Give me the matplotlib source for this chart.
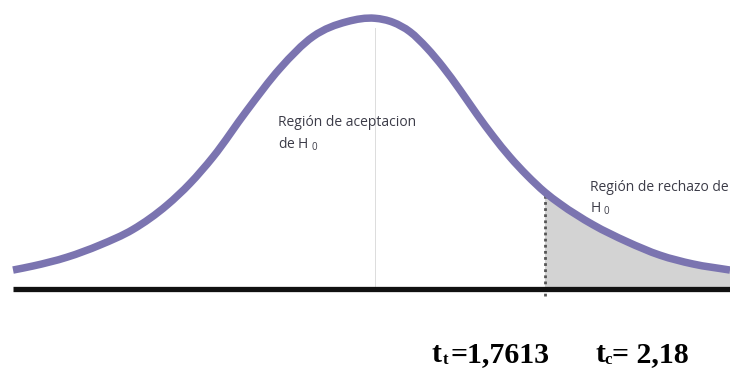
import matplotlib
matplotlib.use("Agg")
import matplotlib.pyplot as plt
from matplotlib.path import Path
from matplotlib.patches import PathPatch
import numpy as np

# Curve (t value, height above the base line)
t_vals = [-3.751, -3.544, -3.192, -2.850, -2.508, -2.155, -1.917, -1.679, -1.326,
          -0.984, -0.642, -0.290, 0.0, 0.187, 0.363, 0.539, 0.705, 0.881, 1.057,
          1.223, 1.399, 1.575, 1.7613, 1.917, 2.259, 2.611, 2.953, 3.295, 3.679]
dens = [0.028, 0.034, 0.047, 0.065, 0.088, 0.124, 0.156, 0.195, 0.264,
        0.326, 0.373, 0.395, 0.400, 0.394, 0.380, 0.356, 0.328, 0.294, 0.258,
        0.226, 0.195, 0.168, 0.143, 0.126, 0.095, 0.070, 0.050, 0.037, 0.028]
t_tabla = 1.7613
t_calc_label = "2,18"
t_tabla_label = "1,7613"

W, H = 730, 377
fig = plt.figure(figsize=(W / 100, H / 100), dpi=100)
ax = fig.add_axes([0, 0, 1, 1])
ax.set_xlim(-3.886, 3.679)
ax.set_ylim(-0.130, 0.427)
ax.axis("off")


def smooth_path(xs, ys):
    """Cubic Bezier path through the points (Hermite tangents, non-uniform x)."""
    xs = np.asarray(xs, float)
    ys = np.asarray(ys, float)
    n = len(xs)
    m = np.empty(n)
    m[0] = (ys[1] - ys[0]) / (xs[1] - xs[0])
    m[-1] = (ys[-1] - ys[-2]) / (xs[-1] - xs[-2])
    for i in range(1, n - 1):
        h0 = xs[i] - xs[i - 1]
        h1 = xs[i + 1] - xs[i]
        s0 = (ys[i] - ys[i - 1]) / h0
        s1 = (ys[i + 1] - ys[i]) / h1
        m[i] = (s0 * h1 + s1 * h0) / (h0 + h1)
    verts = [(xs[0], ys[0])]
    codes = [Path.MOVETO]
    for i in range(n - 1):
        h = xs[i + 1] - xs[i]
        verts += [(xs[i] + h / 3, ys[i] + m[i] * h / 3),
                  (xs[i + 1] - h / 3, ys[i + 1] - m[i + 1] * h / 3),
                  (xs[i + 1], ys[i + 1])]
        codes += [Path.CURVE4] * 3
    return verts, codes


# faint centre line
ax.plot([0, 0], [0, 0.385], color="#dcdcdc", lw=0.7, zorder=1)

# rejection region
k = t_vals.index(t_tabla)
v, c = smooth_path(t_vals[k:], dens[k:])
v = [(t_tabla, 0.0)] + v + [(t_vals[-1], 0.0), (t_tabla, 0.0)]
c = [Path.MOVETO, Path.LINETO] + c[1:] + [Path.LINETO, Path.CLOSEPOLY]
ax.add_patch(PathPatch(Path(np.array(v), c), facecolor="#d3d3d3", lw=0, zorder=2))

# dotted critical line
ax.plot([t_tabla, t_tabla], [-0.01, dens[k]],
        color="#555555", lw=2.0, ls=(0, (1, 1.2)), zorder=3)

# base line
ax.plot([t_vals[0], 3.9], [0, 0], color="#111111", lw=3.8, solid_capstyle="butt", zorder=4)

# curve
v, c = smooth_path(t_vals, dens)
ax.add_patch(PathPatch(Path(np.array(v), c), facecolor="none", edgecolor="#7b74b0",
                       lw=5.4, capstyle="butt", zorder=5))

small = dict(fontsize=10, color="#3c3c48", family=["Open Sans", "DejaVu Sans"])
fig.text(278 / W, 1 - 123 / H, "Región de aceptacion", va="center", ha="left", **small)
fig.text(278 / W, 1 - 144 / H, "de H $_{\\mathregular{0}}$", va="center", ha="left", **small)
fig.text(590 / W, 1 - 188 / H, "Región de rechazo de", va="center", ha="left", **small)
fig.text(590 / W, 1 - 209 / H, "H $_{\\mathregular{0}}$", va="center", ha="left", **small)

big = dict(fontsize=21.5, color="black", family="Liberation Serif", weight="bold",
           va="baseline", ha="left")
sub = dict(fontsize=12, color="black", family="Liberation Serif", weight="bold",
           va="baseline", ha="left")
base_y = 1 - 362 / H
sub_y = 1 - 364 / H
fig.text(432 / W, base_y, "t", **big)
fig.text(443 / W, sub_y, "t", **sub)
fig.text(450 / W, base_y, "=" + t_tabla_label, **big)
fig.text(595 / W, base_y, "t", **big)
fig.text(604 / W, sub_y, "c", **sub)
fig.text(612 / W, base_y, "= " + t_calc_label, **big)

fig.savefig("out.png", dpi=100, facecolor="white")
